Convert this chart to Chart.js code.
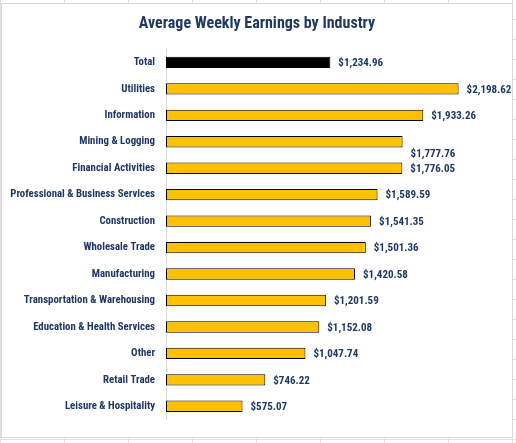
<!DOCTYPE html>
<html>
<head>
<meta charset="utf-8">
<script src="https://cdn.jsdelivr.net/npm/chart.js@4"></script>
<style>
  html, body { margin: 0; padding: 0; }
  body {
    width: 516px; height: 443px; position: relative; overflow: hidden;
    background-color: #fff;
    background-image:
      linear-gradient(to right, #e1e1e1 1px, transparent 1px),
      linear-gradient(to bottom, #e1e1e1 1px, transparent 1px);
    background-size: 64px 20px;
    background-position: 0 -1px;
  }
  #box {
    position: absolute; left: 1px; top: 3px; width: 510px; height: 433px;
    background: #fff; border: 1px solid #d9d9d9;
  }
</style>
</head>
<body>
<div id="box"><canvas id="earnings-chart"></canvas></div>
<script>
const industries = [
  "Total", "Utilities", "Information", "Mining & Logging", "Financial Activities",
  "Professional & Business Services", "Construction", "Wholesale Trade", "Manufacturing",
  "Transportation & Warehousing", "Education & Health Services", "Other",
  "Retail Trade", "Leisure & Hospitality"
];
const weeklyEarnings = [
  1234.96, 2198.62, 1933.26, 1777.76, 1776.05, 1589.59, 1541.35, 1501.36,
  1420.58, 1201.59, 1152.08, 1047.74, 746.22, 575.07
];

const navy = "#1f3864";
const font = "Roboto";
// narrow face, like the original's font
const weight = "bold condensed";

// label for Mining & Logging was nudged down in the original
const labelNudge = { "Mining & Logging": 11 };

function money(v) {
  return "$" + v.toLocaleString("en-US", { minimumFractionDigits: 2, maximumFractionDigits: 2 });
}

const valueLabels = {
  id: "valueLabels",
  afterDatasetsDraw(chart) {
    const c = chart.ctx;
    const meta = chart.getDatasetMeta(0);
    c.save();
    c.font = weight + " 11px " + font;
    c.fillStyle = navy;
    c.textBaseline = "middle";
    meta.data.forEach((bar, i) => {
      const dy = labelNudge[industries[i]] || 0;
      c.fillText(money(weeklyEarnings[i]), bar.x + 8, bar.y + dy + 1);
    });
    c.restore();
  }
};

const ctx = document.getElementById("earnings-chart").getContext("2d");
new Chart(ctx, {
  type: "bar",
  data: {
    labels: industries,
    datasets: [{
      data: weeklyEarnings,
      backgroundColor: industries.map(n => n === "Total" ? "#000000" : "#ffc000"),
      borderColor: "#000000",
      borderWidth: 1,
      borderSkipped: false,
      barPercentage: 0.43,
      categoryPercentage: 1
    }]
  },
  options: {
    indexAxis: "y",
    responsive: true,
    maintainAspectRatio: false,
    animation: false,
    layout: { padding: { left: 0, right: 0, top: 0, bottom: 3 } },
    scales: {
      // hidden axis; extra room on the right keeps the title centred
      x: { min: 0, max: 2600, display: false },
      y: {
        grid: { display: false, drawTicks: false },
        border: { display: true, color: "#d9d9d9" },
        ticks: { color: navy, font: { family: font, size: 10.8, weight: weight }, padding: 11 },
        afterFit(scale) { scale.width = 164; }
      }
    },
    plugins: {
      legend: { display: false },
      tooltip: { enabled: false },
      title: {
        display: true,
        text: "Average Weekly Earnings by Industry",
        color: navy,
        font: { family: font, size: 16, weight: weight },
        padding: { top: 10, bottom: 16 }
      }
    }
  },
  plugins: [valueLabels]
});
</script>
</body>
</html>
